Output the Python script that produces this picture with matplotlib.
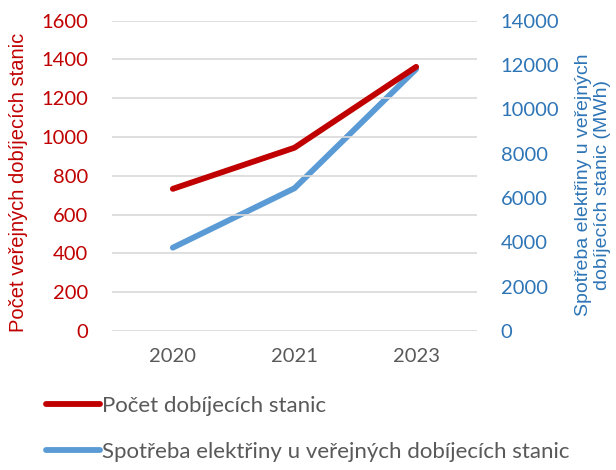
import matplotlib.pyplot as plt
from matplotlib.lines import Line2D

roky = ['2020', '2021', '2023']
pocet_stanic = [733, 945, 1362]
spotreba_mwh = [3760, 6440, 11815]

cervena = '#C00000'
modra = '#5B9BD5'
modra_tmava = '#2E75B6'
seda = '#595959'

fig = plt.figure(figsize=(6.16, 4.70), dpi=100)
ax = fig.add_axes([0.1818, 0.2957, 0.5925, 0.6603])
ax2 = ax.twinx()

x = range(len(roky))
ax.plot(x, pocet_stanic, color=cervena, lw=4.2, solid_capstyle='round', zorder=3)
ax2.plot(x, spotreba_mwh, color=modra, lw=4.2, solid_capstyle='round', zorder=2)
ax.set_zorder(ax2.get_zorder() + 1)
ax.patch.set_visible(False)

ax.set_xlim(-0.5, 2.5)
ax.set_ylim(0, 1600)
ax.set_yticks(range(0, 1601, 200))
ax2.set_ylim(0, 14000)
ax2.set_yticks(range(0, 14001, 2000))
ax.set_xticks(list(x))
ax.set_xticklabels(roky)

ax.grid(axis='y', color='#d9d9d9', lw=1.2)
ax.set_axisbelow(True)
for a in (ax, ax2):
    for s in a.spines.values():
        s.set_visible(False)
    a.tick_params(length=0)

ax.tick_params(axis='y', colors=cervena, labelsize=14.5, pad=17)
for lab in ax.get_yticklabels():
    lab.set_fontfamily('Lato')
ax.tick_params(axis='x', colors=seda, labelsize=14.5, pad=12)
for lab in ax.get_xticklabels():
    lab.set_fontfamily('Lato')
ax2.tick_params(axis='y', colors=modra_tmava, labelsize=14.5, pad=17)
for lab in ax2.get_yticklabels():
    lab.set_fontfamily('Lato')

fig.text(0.03, 0.613, 'Počet veřejných dobíjecích stanic', rotation=90,
         color=cervena, fontsize=14.5, family='Liberation Sans',
         ha='center', va='center')
fig.text(0.963, 0.606, 'Spotřeba elektřiny u veřejných\ndobíjecích stanic (MWh)',
         rotation=90, color=modra_tmava, fontsize=14, family='Liberation Sans',
         ha='center', va='center', linespacing=1.12)

handles = [Line2D([], [], color=cervena, lw=4.2, solid_capstyle='round'),
           Line2D([], [], color=modra, lw=4.2, solid_capstyle='round')]
labels = ['Počet dobíjecích stanic',
          'Spotřeba elektřiny u veřejných dobíjecích stanic']
leg = fig.legend(handles, labels, loc='upper left',
                 frameon=False, handlelength=2.4, handletextpad=0.12,
                 labelspacing=1.15, borderaxespad=0, borderpad=0,
                 prop={'family': 'Lato', 'size': 16})
leg.set_bbox_to_anchor((0.075, 0.157), transform=fig.transFigure)
for t in leg.get_texts():
    t.set_color(seda)

fig.savefig('out.png', dpi=100)
